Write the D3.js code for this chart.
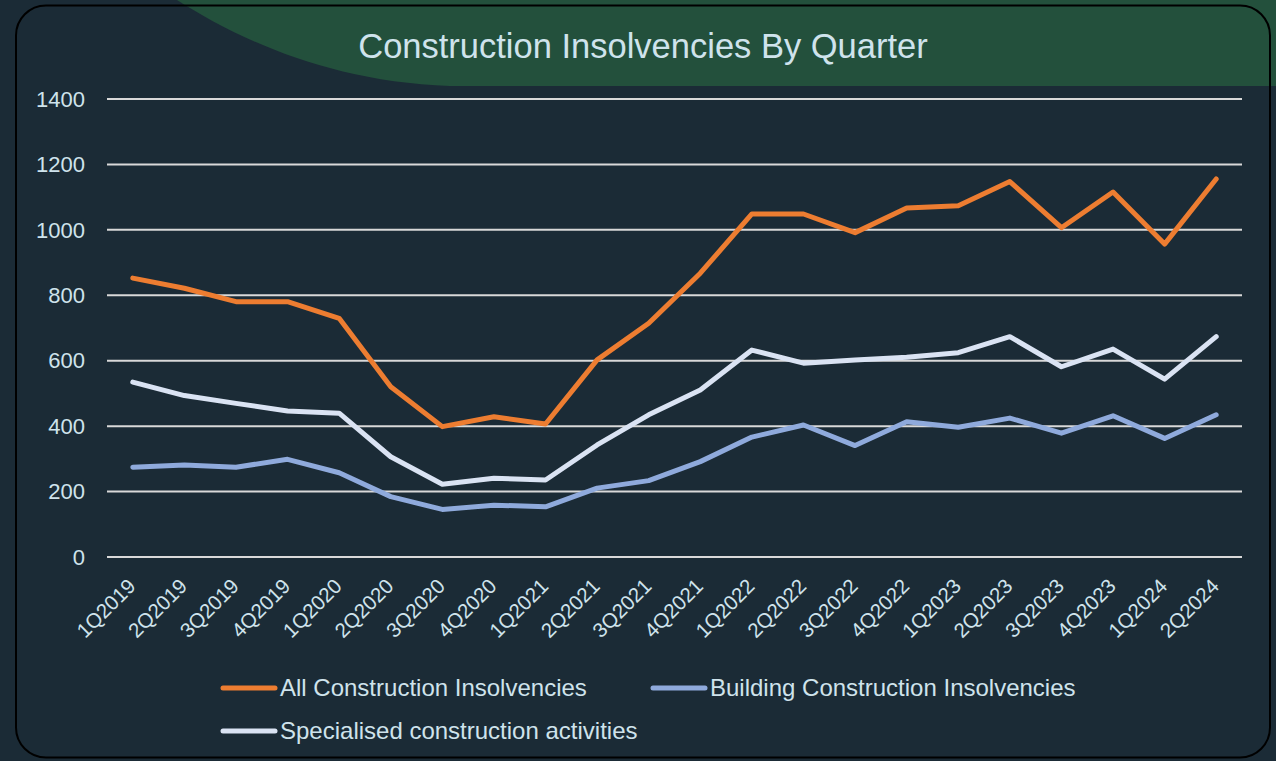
<!DOCTYPE html>
<html>
<head>
<meta charset="utf-8">
<script src="https://cdn.jsdelivr.net/npm/d3@7"></script>
<style>
  html, body { margin: 0; padding: 0; background: #1b2b36; }
  svg { display: block; font-family: "Liberation Sans", Arial, sans-serif; }
</style>
</head>
<body>
<div id="chart"></div>
<script>
// Data
const quarters = ["1Q2019", "2Q2019", "3Q2019", "4Q2019", "1Q2020", "2Q2020", "3Q2020", "4Q2020",
  "1Q2021", "2Q2021", "3Q2021", "4Q2021", "1Q2022", "2Q2022", "3Q2022", "4Q2022",
  "1Q2023", "2Q2023", "3Q2023", "4Q2023", "1Q2024", "2Q2024"];
const allConstruction = [851, 820, 779, 779, 728, 519, 397, 427, 405, 601, 713, 866,
  1047, 1047, 990, 1065, 1072, 1146, 1005, 1114, 955, 1154];
const buildingConstruction = [273, 280, 273, 297, 256, 183, 144, 157, 152, 209, 232, 290,
  365, 402, 339, 412, 395, 423, 377, 430, 361, 433];
const specialised = [533, 492, 468, 445, 438, 305, 221, 239, 234, 341, 433, 509,
  631, 591, 601, 609, 623, 672, 580, 634, 542, 672];
const yTicks = [0, 200, 400, 600, 800, 1000, 1200, 1400];
const seriesNames = ["All Construction Insolvencies", "Building Construction Insolvencies", "Specialised construction activities"];

const series = [
  { name: seriesNames[0], values: allConstruction, color: "#ed7d31" },
  { name: seriesNames[1], values: buildingConstruction, color: "#8faadc" },
  { name: seriesNames[2], values: specialised, color: "#dae3f3" },
];

const width = 1276, height = 761;
const plot = { left: 107, right: 1242, top: 98.5, bottom: 556.5 };
const textColor = "#cfe3ec";

const svg = d3.select("#chart").append("svg")
  .attr("width", width)
  .attr("height", height);

// background + green header blob
svg.append("rect").attr("width", width).attr("height", height).attr("fill", "#1b2b36");
svg.append("path")
  .attr("d", "M177,0 C240,40 330,82 450,86 L1276,86 L1276,0 Z")
  .attr("fill", "#23503c");

// frame
svg.append("rect")
  .attr("x", 16).attr("y", 5.5)
  .attr("width", 1254).attr("height", 752)
  .attr("rx", 30).attr("ry", 30)
  .attr("fill", "none")
  .attr("stroke", "#000")
  .attr("stroke-width", 2);

// title
svg.append("text")
  .attr("x", 643).attr("y", 58)
  .attr("text-anchor", "middle")
  .attr("fill", textColor)
  .style("font-size", "34.5px")
  .text("Construction Insolvencies By Quarter");

// scales
const xScale = d3.scaleBand()
  .domain(quarters)
  .range([plot.left, plot.right]);
const yScale = d3.scaleLinear()
  .domain([0, 1400])
  .range([plot.bottom, plot.top]);
const xPos = (q) => xScale(q) + xScale.bandwidth() / 2;

// gridlines + y labels
const yAxis = d3.axisLeft(yScale)
  .tickValues(yTicks)
  .tickFormat(d3.format("d"))
  .tickSize(-(plot.right - plot.left))
  .tickPadding(22);
const yAxisGroup = svg.append("g")
  .attr("transform", `translate(${plot.left},0)`)
  .call(yAxis);
yAxisGroup.select(".domain").remove();
yAxisGroup.selectAll(".tick line").attr("stroke", "#d9d9d9").attr("stroke-width", 2);
yAxisGroup.selectAll(".tick text")
  .attr("fill", textColor)
  .style("font-size", "22px")
  .attr("dy", "0.35em");

// x labels
const xAxis = d3.axisBottom(xScale).tickSize(0).tickPadding(0);
const xAxisGroup = svg.append("g")
  .attr("transform", `translate(0,${plot.bottom})`)
  .call(xAxis);
xAxisGroup.select(".domain").remove();
xAxisGroup.selectAll(".tick text")
  .attr("fill", textColor)
  .style("font-size", "20.5px")
  .attr("text-anchor", "end")
  .attr("dy", 0)
  .attr("y", 0)
  .attr("transform", "translate(4,31) rotate(-45)");

// lines
const line = d3.line()
  .x((d, i) => xPos(quarters[i]))
  .y((d) => yScale(d));

svg.append("g")
  .selectAll("path")
  .data([series[2], series[1], series[0]])
  .join("path")
  .attr("d", (d) => line(d.values))
  .attr("fill", "none")
  .attr("stroke", (d) => d.color)
  .attr("stroke-width", 5)
  .attr("stroke-linejoin", "round")
  .attr("stroke-linecap", "round");

// legend
const legendPos = [[220, 688], [650, 688], [220, 731]];
const legend = svg.append("g")
  .selectAll("g")
  .data(series)
  .join("g")
  .attr("transform", (d, i) => `translate(${legendPos[i][0]},${legendPos[i][1]})`);
legend.append("line")
  .attr("x1", 3).attr("x2", 55)
  .attr("stroke", (d) => d.color)
  .attr("stroke-width", 5)
  .attr("stroke-linecap", "round");
legend.append("text")
  .attr("x", 60)
  .attr("dy", "0.35em")
  .attr("fill", textColor)
  .style("font-size", "24px")
  .text((d) => d.name);
</script>
</body>
</html>
